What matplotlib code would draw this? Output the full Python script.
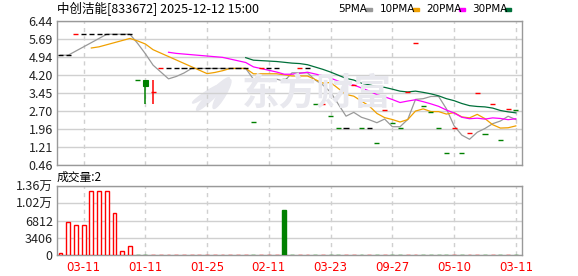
import matplotlib
matplotlib.use("Agg")
import matplotlib.pyplot as plt
from matplotlib.patches import Ellipse
import numpy as np
import pandas as pd

plt.rcParams["font.family"] = ["Noto Sans CJK SC", "DejaVu Sans"]

# --- data -------------------------------------------------------------------
# five closes before the visible window (only feed the moving averages)
pre_closes = [5.40, 5.02, 5.02, 5.02, 5.02]

closes = [5.02, 5.02, 5.89, 5.89, 5.89, 5.89, 5.89, 5.89, 5.89, 5.89,
          3.98, 3.75, 3.52, 4.47, 4.47, 4.47, 4.47, 4.47, 4.47, 4.47,
          4.47, 4.47, 4.47, 4.47, 4.47, 2.25, 4.47, 4.47, 4.47, 4.04,
          3.99, 4.47, 4.47, 2.99, 3.00, 2.49, 1.98, 1.98, 3.78, 1.98,
          1.98, 1.36, 2.74, 2.19, 1.98, 3.50, 5.51, 2.89, 2.65, 1.98,
          0.95, 1.98, 0.95, 1.78, 3.44, 1.73, 2.98, 1.50, 2.77, 2.76]
opens = list(closes)
highs = list(closes)
lows = list(closes)
# the only two days with a real range
opens[11], highs[11], lows[11] = 3.98, 3.98, 2.99
opens[12], highs[12], lows[12] = 3.50, 3.98, 2.99

volumes = [470, 6520, 5850, 5850, 12570, 12570, 12570, 8380, 800, 1800,
           5, 8, 3, 6, 2, 4, 3, 5, 2, 3,
           4, 2, 3, 6, 2, 5, 3, 2, 4, 8850,
           6, 3, 2, 5, 4, 3, 6, 2, 4, 3,
           2, 5, 3, 4, 2, 3, 2, 5, 3, 4,
           2, 3, 1, 4, 3, 2, 5, 3, 4, 2]

price_ticks = [6.44, 5.69, 4.94, 4.20, 3.45, 2.70, 1.96, 1.21, 0.46]
vol_ticks = [0, 3406, 6812, 10218, 13624]
vol_labels = ["0", "3406", "6812", "1.02万", "1.36万"]
date_pos = [3, 11, 19, 27, 35, 43, 51, 59]
date_labels = ["03-11", "01-11", "01-25", "02-11", "03-23", "09-27", "05-10", "03-11"]

ma_names = ["5PMA", "10PMA", "20PMA", "30PMA"]
ma_windows = [5, 10, 20, 30]
ma_colors = ["#999999", "#f0a000", "#ff00ff", "#00703a"]

UP, DOWN, FLAT = "#ff0000", "#008000", "#000000"

# --- figure -----------------------------------------------------------------
W, H = 578, 276
fig = plt.figure(figsize=(W / 100, H / 100), dpi=100)


def px_axes(x0, y0, x1, y1):
    return fig.add_axes([x0 / W, 1 - y1 / H, (x1 - x0) / W, (y1 - y0) / H])


ax = px_axes(57, 21, 522, 165)
axv = px_axes(57, 186, 522, 255)

n = len(closes)
x = np.arange(n)
xlim = (-0.45, 59.8)

# watermark
fig.text(317 / W, 1 - 94 / H, "东方财富", fontsize=27, fontweight="bold",
         color="#e8e8ee", ha="center", va="center", zorder=0)
for cx, w, h, ang in [(213, 9, 36, -25), (222, 8, 30, -15), (206, 6, 22, -35)]:
    ax.add_patch(Ellipse((cx / W, 1 - 94 / H), w / W, h / H, angle=ang,
                         transform=fig.transFigure, color="#e8e8ee", zorder=0))

# candles
colors = []
for i in range(n):
    prev = closes[i - 1] if i > 0 else pre_closes[-1]
    if opens[i] != closes[i]:
        c = UP if closes[i] > opens[i] else DOWN
    else:
        c = UP if closes[i] > prev else DOWN if closes[i] < prev else FLAT
    colors.append(c)
    if highs[i] != lows[i]:
        ax.vlines(i, lows[i], highs[i], color=c, lw=1.1, zorder=4)
    if opens[i] != closes[i] and abs(opens[i] - closes[i]) > 0.05:
        ax.bar(i, closes[i] - opens[i], bottom=opens[i], width=0.6,
               color=c, edgecolor=c, lw=0.8, zorder=4)
    else:
        mid = (opens[i] + closes[i]) / 2
        ax.hlines(mid, i - 0.33, i + 0.33, color=c, lw=1.0, zorder=4)

# moving averages
all_closes = pd.Series(pre_closes + closes)
for name, win, col in zip(ma_names, ma_windows, ma_colors):
    ma = all_closes.rolling(win).mean().to_numpy()[len(pre_closes):]
    ax.plot(x, ma, color=col, lw=0.9, zorder=3)

ax.set_xlim(*xlim)
ax.set_ylim(price_ticks[-1], price_ticks[0])
ax.set_yticks(price_ticks)
ax.set_yticklabels([f"{t:.2f}" for t in price_ticks])
ax.set_xticks(date_pos)
ax.set_xticklabels([])

# volume
for i in range(n):
    c = DOWN if colors[i] == DOWN else UP
    if c == UP:
        axv.bar(i, volumes[i], width=0.5, facecolor="white", edgecolor=c,
                lw=1.0, zorder=3)
    else:
        axv.bar(i, volumes[i], width=0.5, facecolor=c, edgecolor=c,
                lw=1.0, zorder=3)
axv.set_xlim(*xlim)
axv.set_ylim(0, vol_ticks[-1])
axv.set_yticks(vol_ticks)
axv.set_yticklabels(vol_labels)
axv.set_xticks(date_pos)
axv.set_xticklabels(date_labels, color="#ff0000", fontsize=8.5,
                    family="DejaVu Sans")

for a in (ax, axv):
    a.set_axisbelow(True)
    a.grid(axis="y", color="#d0d0d0", lw=1, ls="-")
    a.grid(axis="x", color="#d0d0d0", lw=1, ls=(0, (3, 3)))
    a.tick_params(length=0, pad=3, labelsize=9, labelcolor="#222222")
    for s in a.spines.values():
        s.set_color("#999999")
        s.set_linewidth(1)
axv.tick_params(axis="x", pad=4, labelcolor="#ff0000", labelsize=8.5)

# texts
fig.text(57 / W, 1 - 9 / H, "中创洁能[833672] 2025-12-12 15:00", fontsize=9,
         va="center", ha="left", color="#000000")
fig.text(57 / W, 1 - 177 / H, "成交量:2", fontsize=8.5, va="center",
         ha="left", color="#000000")

leg_x = [338, 380, 426, 472]
for lx, name, col in zip(leg_x, ma_names, ma_colors):
    fig.text(lx / W, 1 - 9 / H, name, fontsize=7.5, va="center", ha="left",
             family="DejaVu Sans", color="#000000")
    tw = {"5PMA": 26, "10PMA": 31, "20PMA": 31, "30PMA": 31}[name]
    fig.patches.append(plt.Rectangle(((lx + tw + 2) / W, 1 - 11 / H), 6 / W, 3 / H,
                                     transform=fig.transFigure, color=col))

fig.savefig("out.png", dpi=100)
